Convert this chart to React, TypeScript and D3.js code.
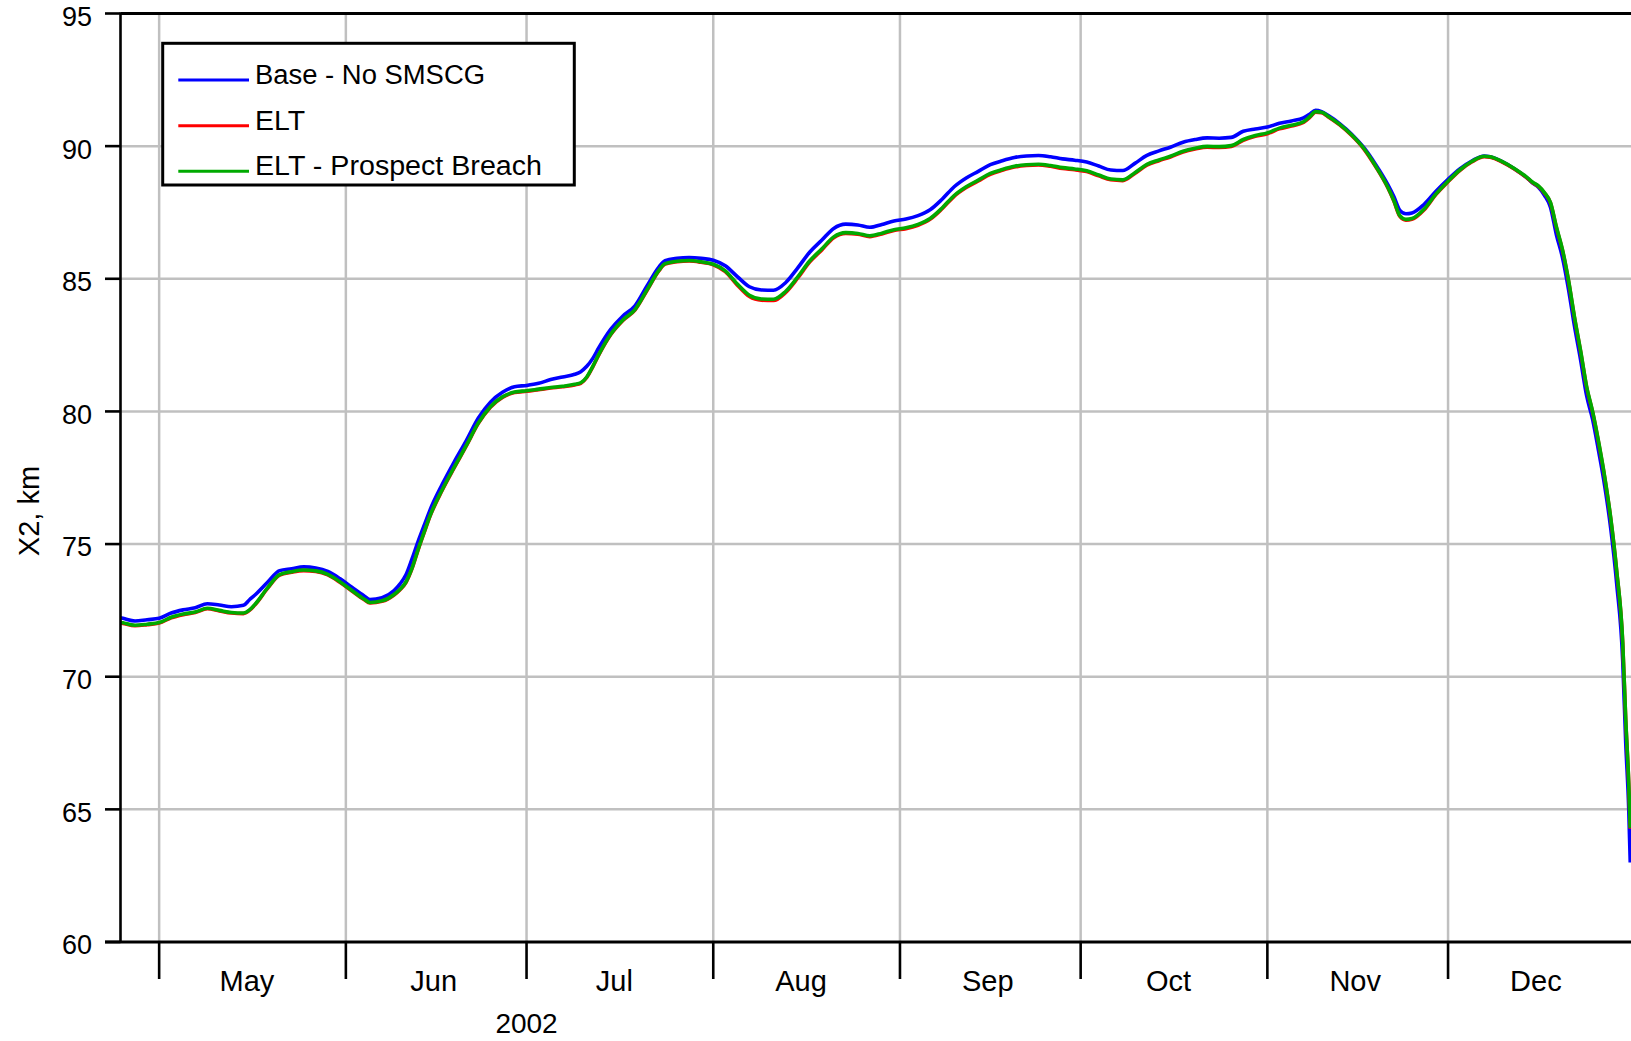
import React from "react";
import * as d3 from "d3";

const dates: string[] = [
  "2002-04-24T14:00Z", "2002-04-25", "2002-04-27", "2002-04-29", "2002-05-01", "2002-05-03", "2002-05-05", "2002-05-07",
  "2002-05-09", "2002-05-11", "2002-05-13", "2002-05-15", "2002-05-16", "2002-05-17", "2002-05-19", "2002-05-21",
  "2002-05-23", "2002-05-25", "2002-05-27", "2002-05-29", "2002-05-31", "2002-06-02", "2002-06-04", "2002-06-05",
  "2002-06-07", "2002-06-09", "2002-06-10", "2002-06-11", "2002-06-12", "2002-06-13", "2002-06-14", "2002-06-15",
  "2002-06-17", "2002-06-19", "2002-06-21", "2002-06-23", "2002-06-25", "2002-06-27", "2002-06-29", "2002-07-01",
  "2002-07-03", "2002-07-05", "2002-07-07", "2002-07-09", "2002-07-10", "2002-07-11", "2002-07-12", "2002-07-13",
  "2002-07-15", "2002-07-17", "2002-07-19", "2002-07-21", "2002-07-23", "2002-07-24", "2002-07-26", "2002-07-28",
  "2002-07-30", "2002-08-01", "2002-08-03", "2002-08-05", "2002-08-07", "2002-08-09", "2002-08-11", "2002-08-13",
  "2002-08-15", "2002-08-17", "2002-08-19", "2002-08-21", "2002-08-23", "2002-08-25", "2002-08-27", "2002-08-29",
  "2002-08-31", "2002-09-02", "2002-09-04", "2002-09-06", "2002-09-08", "2002-09-10", "2002-09-12", "2002-09-14",
  "2002-09-16", "2002-09-18", "2002-09-20", "2002-09-22", "2002-09-24", "2002-09-26", "2002-09-28", "2002-09-30",
  "2002-10-02", "2002-10-04", "2002-10-06", "2002-10-08", "2002-10-10", "2002-10-12", "2002-10-14", "2002-10-16",
  "2002-10-18", "2002-10-20", "2002-10-22", "2002-10-24", "2002-10-26", "2002-10-28", "2002-10-30", "2002-11-01",
  "2002-11-03", "2002-11-05", "2002-11-07", "2002-11-08", "2002-11-09", "2002-11-10", "2002-11-11", "2002-11-13",
  "2002-11-15", "2002-11-17", "2002-11-19", "2002-11-21", "2002-11-22", "2002-11-23", "2002-11-24", "2002-11-25",
  "2002-11-27", "2002-11-29", "2002-12-01", "2002-12-03", "2002-12-05", "2002-12-07", "2002-12-08", "2002-12-10",
  "2002-12-12", "2002-12-14", "2002-12-15", "2002-12-16", "2002-12-17", "2002-12-18", "2002-12-19", "2002-12-20",
  "2002-12-21", "2002-12-22", "2002-12-23", "2002-12-24", "2002-12-25", "2002-12-26", "2002-12-27", "2002-12-28",
  "2002-12-29", "2002-12-30", "2002-12-30T12:00Z", "2002-12-31", "2002-12-31T06:00Z",
];

const baseNoSMSCG: number[] = [
  72.22, 72.20, 72.10, 72.15, 72.20, 72.40, 72.52, 72.60,
  72.75, 72.70, 72.64, 72.69, 72.90, 73.10, 73.56, 74.00,
  74.07, 74.14, 74.10, 73.97, 73.70, 73.37, 73.05, 72.91,
  72.98, 73.25, 73.50, 73.85, 74.45, 75.10, 75.70, 76.30,
  77.25, 78.10, 78.90, 79.75, 80.35, 80.72, 80.93, 80.98,
  81.06, 81.20, 81.30, 81.40, 81.50, 81.70, 82.00, 82.40,
  83.10, 83.60, 83.98, 84.73, 85.45, 85.68, 85.77, 85.80,
  85.77, 85.70, 85.49, 85.08, 84.70, 84.58, 84.57, 84.85,
  85.40, 86.00, 86.45, 86.90, 87.06, 87.03, 86.94, 87.05,
  87.18, 87.25, 87.38, 87.60, 88.00, 88.47, 88.80, 89.05,
  89.30, 89.45, 89.57, 89.63, 89.65, 89.60, 89.52, 89.47,
  89.40, 89.25, 89.10, 89.08, 89.35, 89.65, 89.82, 89.97,
  90.15, 90.25, 90.31, 90.30, 90.33, 90.56, 90.65, 90.72,
  90.86, 90.95, 91.07, 91.20, 91.35, 91.30, 91.17, 90.85,
  90.45, 89.95, 89.30, 88.55, 88.10, 87.58, 87.45, 87.48,
  87.80, 88.30, 88.75, 89.15, 89.45, 89.63, 89.60, 89.42,
  89.15, 88.82, 88.62, 88.45, 88.15, 87.70, 86.65, 85.80,
  84.60, 83.20, 81.95, 80.60, 79.70, 78.50, 77.20, 75.60,
  73.50, 70.60, 67.50, 65.00, 63.00,
];

const elt: number[] = [
  72.03, 72.01, 71.92, 71.96, 72.02, 72.22, 72.34, 72.42,
  72.56, 72.48, 72.40, 72.38, 72.50, 72.73, 73.33, 73.83,
  73.94, 74.00, 73.97, 73.84, 73.56, 73.23, 72.91, 72.78,
  72.84, 73.08, 73.28, 73.56, 74.08, 74.78, 75.43, 76.06,
  77.03, 77.88, 78.70, 79.55, 80.16, 80.53, 80.71, 80.76,
  80.82, 80.88, 80.93, 81.00, 81.06, 81.28, 81.68, 82.13,
  82.90, 83.43, 83.82, 84.56, 85.31, 85.55, 85.64, 85.67,
  85.62, 85.53, 85.27, 84.76, 84.33, 84.19, 84.18, 84.48,
  85.02, 85.63, 86.08, 86.55, 86.71, 86.68, 86.59, 86.69,
  86.82, 86.89, 87.02, 87.24, 87.64, 88.11, 88.44, 88.69,
  88.94, 89.09, 89.21, 89.27, 89.29, 89.24, 89.16, 89.11,
  89.04, 88.88, 88.73, 88.70, 88.97, 89.28, 89.45, 89.60,
  89.78, 89.89, 89.96, 89.95, 89.99, 90.22, 90.37, 90.47,
  90.65, 90.76, 90.89, 91.07, 91.28, 91.26, 91.12, 90.80,
  90.40, 89.90, 89.22, 88.43, 87.93, 87.35, 87.21, 87.24,
  87.59, 88.18, 88.66, 89.09, 89.41, 89.60, 89.58, 89.40,
  89.14, 88.82, 88.63, 88.48, 88.23, 87.86, 86.92, 86.07,
  84.92, 83.52, 82.27, 80.92, 79.97, 78.82, 77.52, 75.97,
  73.97, 71.27, 68.37, 65.97, 64.27,
];

const eltProspectBreach: number[] = [
  72.05, 72.03, 71.94, 71.98, 72.04, 72.24, 72.36, 72.44,
  72.58, 72.50, 72.42, 72.40, 72.52, 72.75, 73.35, 73.85,
  73.96, 74.02, 73.99, 73.86, 73.58, 73.25, 72.93, 72.80,
  72.86, 73.10, 73.30, 73.58, 74.10, 74.80, 75.45, 76.08,
  77.05, 77.90, 78.72, 79.57, 80.18, 80.55, 80.73, 80.78,
  80.84, 80.90, 80.95, 81.02, 81.08, 81.30, 81.70, 82.15,
  82.92, 83.45, 83.84, 84.58, 85.33, 85.57, 85.66, 85.69,
  85.64, 85.55, 85.30, 84.80, 84.38, 84.24, 84.23, 84.52,
  85.06, 85.67, 86.12, 86.58, 86.74, 86.71, 86.62, 86.72,
  86.85, 86.92, 87.05, 87.27, 87.67, 88.14, 88.47, 88.72,
  88.97, 89.12, 89.24, 89.30, 89.32, 89.27, 89.19, 89.14,
  89.07, 88.91, 88.76, 88.73, 89.00, 89.31, 89.48, 89.63,
  89.81, 89.92, 89.99, 89.98, 90.02, 90.25, 90.40, 90.50,
  90.68, 90.79, 90.92, 91.10, 91.30, 91.28, 91.14, 90.82,
  90.42, 89.92, 89.24, 88.45, 87.95, 87.38, 87.24, 87.27,
  87.62, 88.20, 88.68, 89.11, 89.43, 89.62, 89.60, 89.42,
  89.16, 88.84, 88.65, 88.50, 88.25, 87.88, 86.95, 86.10,
  84.95, 83.55, 82.30, 80.95, 80.00, 78.85, 77.55, 76.00,
  74.00, 71.30, 68.40, 66.00, 64.30,
];

const seriesNames = ["Base - No SMSCG", "ELT", "ELT - Prospect Breach"];
const seriesColors = ["#0000ff", "#ff0000", "#00aa00"];
const legendTextWidths = [230, 50, 287];
const yTicks = [60, 65, 70, 75, 80, 85, 90, 95];
const monthStarts = ["2002-05-01", "2002-06-01", "2002-07-01", "2002-08-01", "2002-09-01", "2002-10-01", "2002-11-01", "2002-12-01"];
const yearLabel = "2002";
const yAxisTitle = "X2, km";

const W = 1631;
const H = 1041;
const FONT = "'Liberation Sans', Arial, sans-serif";

export default function App() {
  const x = d3
    .scaleUtc()
    .domain([new Date(Date.UTC(2002, 3, 24, 14)), new Date(Date.UTC(2002, 11, 31, 9))])
    .range([120.5, 1631]);
  const y = d3.scaleLinear().domain([60, 95]).range([942, 13.5]);
  const x0 = x.range()[0];
  const xEnd = W;

  const parsed = dates.map((s) => new Date(s));
  const allSeries = [baseNoSMSCG, elt, eltProspectBreach];
  const line = d3
    .line<number>()
    .x((_, i) => x(parsed[i]))
    .y((v) => y(v))
    .curve(d3.curveMonotoneX);

  const months = monthStarts.map((s) => new Date(s));
  const fmt = d3.utcFormat("%b");

  return (
    <svg
      width={W}
      height={H}
      style={{ position: "absolute", left: 0, top: 0, background: "#fff" }}
      fontFamily={FONT}
    >
      <rect x={0} y={0} width={W} height={H} fill="#fff" />
      {/* grid */}
      {yTicks
        .filter((t) => t > 60 && t < 95)
        .map((t) => (
          <line key={"hg" + t} x1={x0} x2={xEnd} y1={y(t)} y2={y(t)} stroke="#c0c0c0" strokeWidth={2.5} />
        ))}
      {months.map((m, i) => (
        <line key={"vg" + i} x1={x(m)} x2={x(m)} y1={y(95)} y2={y(60)} stroke="#c0c0c0" strokeWidth={2.5} />
      ))}
      {/* series */}
      {allSeries.map((s, k) => (
        <path key={"s" + k} d={line(s) || ""} fill="none" stroke={seriesColors[k]} strokeWidth={3.6} strokeLinejoin="round" />
      ))}
      {/* axes */}
      <line x1={x0} x2={x0} y1={y(95) - 1} y2={y(60)} stroke="#000" strokeWidth={2.6} />
      <line x1={x0} x2={xEnd} y1={y(95)} y2={y(95)} stroke="#000" strokeWidth={2.8} />
      <line x1={105} x2={xEnd} y1={y(60)} y2={y(60)} stroke="#000" strokeWidth={2.8} />
      {yTicks.map((t) => (
        <g key={"yt" + t}>
          <line x1={105} x2={x0} y1={y(t)} y2={y(t)} stroke="#000" strokeWidth={2.6} />
          <text x={92} y={y(t) + 12.4} textAnchor="end" fontSize={27} fill="#000">
            {t}
          </text>
        </g>
      ))}
      {months.map((m, i) => (
        <g key={"mt" + i}>
          <line x1={x(m)} x2={x(m)} y1={y(60)} y2={979} stroke="#000" strokeWidth={2.6} />
          <text
            x={x(d3.utcHour.offset(m, 350))}
            y={991}
            textAnchor="middle"
            fontSize={29}
            fill="#000"
          >
            {fmt(m)}
          </text>
        </g>
      ))}
      <text x={x(months[2])} y={1033} textAnchor="middle" fontSize={28} fill="#000">
        {yearLabel}
      </text>
      <text
        transform={`translate(38.5, 511) rotate(-90)`}
        textAnchor="middle"
        fontSize={29}
        fill="#000"
      >
        {yAxisTitle}
      </text>
      {/* legend */}
      <rect x={162.7} y={43.3} width={411.6} height={141.7} fill="#fff" stroke="#000" strokeWidth={3} />
      {seriesNames.map((n, k) => (
        <g key={"lg" + k}>
          <line x1={178.3} x2={249} y1={80 + k * 45.65} y2={80 + k * 45.65} stroke={seriesColors[k]} strokeWidth={3} />
          <text
            x={255}
            y={84.3 + k * 45.35}
            fontSize={27}
            fill="#000"
            textLength={legendTextWidths[k]}
            lengthAdjust="spacingAndGlyphs"
          >
            {n}
          </text>
        </g>
      ))}
    </svg>
  );
}
